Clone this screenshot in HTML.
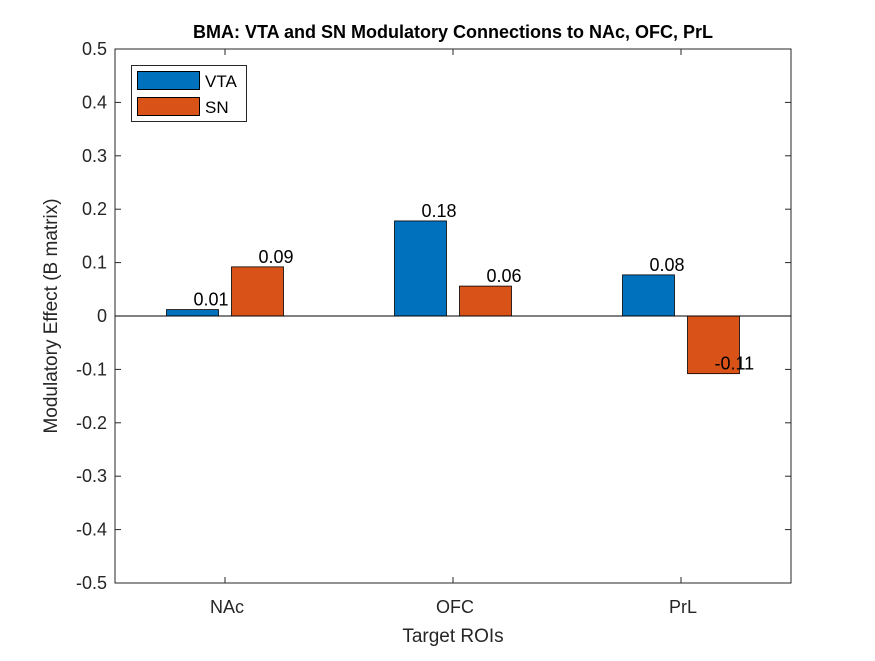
<!DOCTYPE html>
<html><head><meta charset="utf-8"><style>
body{margin:0;background:#fff;}
svg text{font-family:"Liberation Sans",Arial,sans-serif;}
</style></head><body>
<svg id="chart" width="875" height="656" xmlns="http://www.w3.org/2000/svg">
<rect x="0" y="0" width="875" height="656" fill="#fff"/>
<g id="plot"></g>
</svg>
<script>
const categories = ["NAc","OFC","PrL"];
const vtaValues = [0.012, 0.178, 0.077];
const snValues = [0.092, 0.056, -0.108];
const yTicks = [-0.5,-0.4,-0.3,-0.2,-0.1,0,0.1,0.2,0.3,0.4,0.5];
const yTickLabels = ["-0.5","-0.4","-0.3","-0.2","-0.1","0","0.1","0.2","0.3","0.4","0.5"];

const L=115,R=791,T=49,B=583;
const NS="http://www.w3.org/2000/svg";
const g=document.getElementById('plot');
function y(v){return B-(v+0.5)/1.0*(B-T);}
function x(i){return 225+i*228;}
function mk(tag,attrs,parent){const e=document.createElementNS(NS,tag);for(const k in attrs)e.setAttribute(k,attrs[k]);(parent||g).appendChild(e);return e;}

const box=mk('rect',{x:L,y:T,width:R-L,height:B-T,fill:'#fff',stroke:'#262626','stroke-width':1});



yTicks.forEach((v,i)=>{
  const yy=y(v);
  const t1=mk('line',{x1:L,x2:L+6,y1:yy,y2:yy,stroke:'#262626'});
  
  
  mk('line',{x1:R-6,x2:R,y1:yy,y2:yy,stroke:'#262626'});
  const tx=mk('text',{x:L-8,y:yy+6,'text-anchor':'end','font-size':18,fill:'#262626'});
  tx.textContent=yTickLabels[i];
  
  
});
categories.forEach((c,i)=>{
  const xx=x(i);
  mk('line',{x1:xx,x2:xx,y1:B,y2:B-6,stroke:'#262626'});
  mk('line',{x1:xx,x2:xx,y1:T,y2:T+6,stroke:'#262626'});
  const tx=mk('text',{x:xx+2,y:B+30,'text-anchor':'middle','font-size':18,fill:'#262626'});
  tx.textContent=c;
  
  
});
const bw=52, off=32.5;
function bars(vals,dx,color,name){
  vals.forEach((v,i)=>{
    const cx=x(i)+dx;
    const y0=y(0),y1=y(v);
    const r=mk('rect',{x:cx-bw/2,y:Math.min(y0,y1),width:bw,height:Math.abs(y1-y0),fill:color,stroke:'#000','stroke-width':0.8});
    
    
    const t=mk('text',{x:cx+1,y:y1-4,'font-size':18,fill:'#000'});
    t.textContent=v.toFixed(2);
    
    
  });
}
bars(vtaValues,-off,'#0072BD','vta');
bars(snValues,off,'#D95319','sn');
mk('line',{x1:L,x2:R,y1:y(0),y2:y(0),stroke:'#000','stroke-width':1});

const title=mk('text',{x:453,y:38,'text-anchor':'middle','font-size':18,'font-weight':'bold',fill:'#000'});
title.textContent='BMA: VTA and SN Modulatory Connections to NAc, OFC, PrL';


const xt=mk('text',{x:453,y:642,'text-anchor':'middle','font-size':19,fill:'#262626'});
xt.textContent='Target ROIs';


const yt=mk('text',{x:0,y:0,'text-anchor':'middle','font-size':19,fill:'#262626',transform:'translate(57,316) rotate(-90)'});
yt.textContent='Modulatory Effect (B matrix)';



const lg=mk('g',{});


mk('rect',{x:131.5,y:65.5,width:115,height:56,fill:'#fff',stroke:'#262626'},lg);
mk('rect',{x:137.5,y:71.5,width:62,height:18,fill:'#0072BD',stroke:'#000'},lg);
mk('rect',{x:137.5,y:97.5,width:62,height:18,fill:'#D95319',stroke:'#000'},lg);
const l1=mk('text',{x:205,y:87,'font-size':17,fill:'#000'},lg);l1.textContent='VTA';


const l2=mk('text',{x:205,y:113,'font-size':17,fill:'#000'},lg);l2.textContent='SN';


</script>
</body></html>
